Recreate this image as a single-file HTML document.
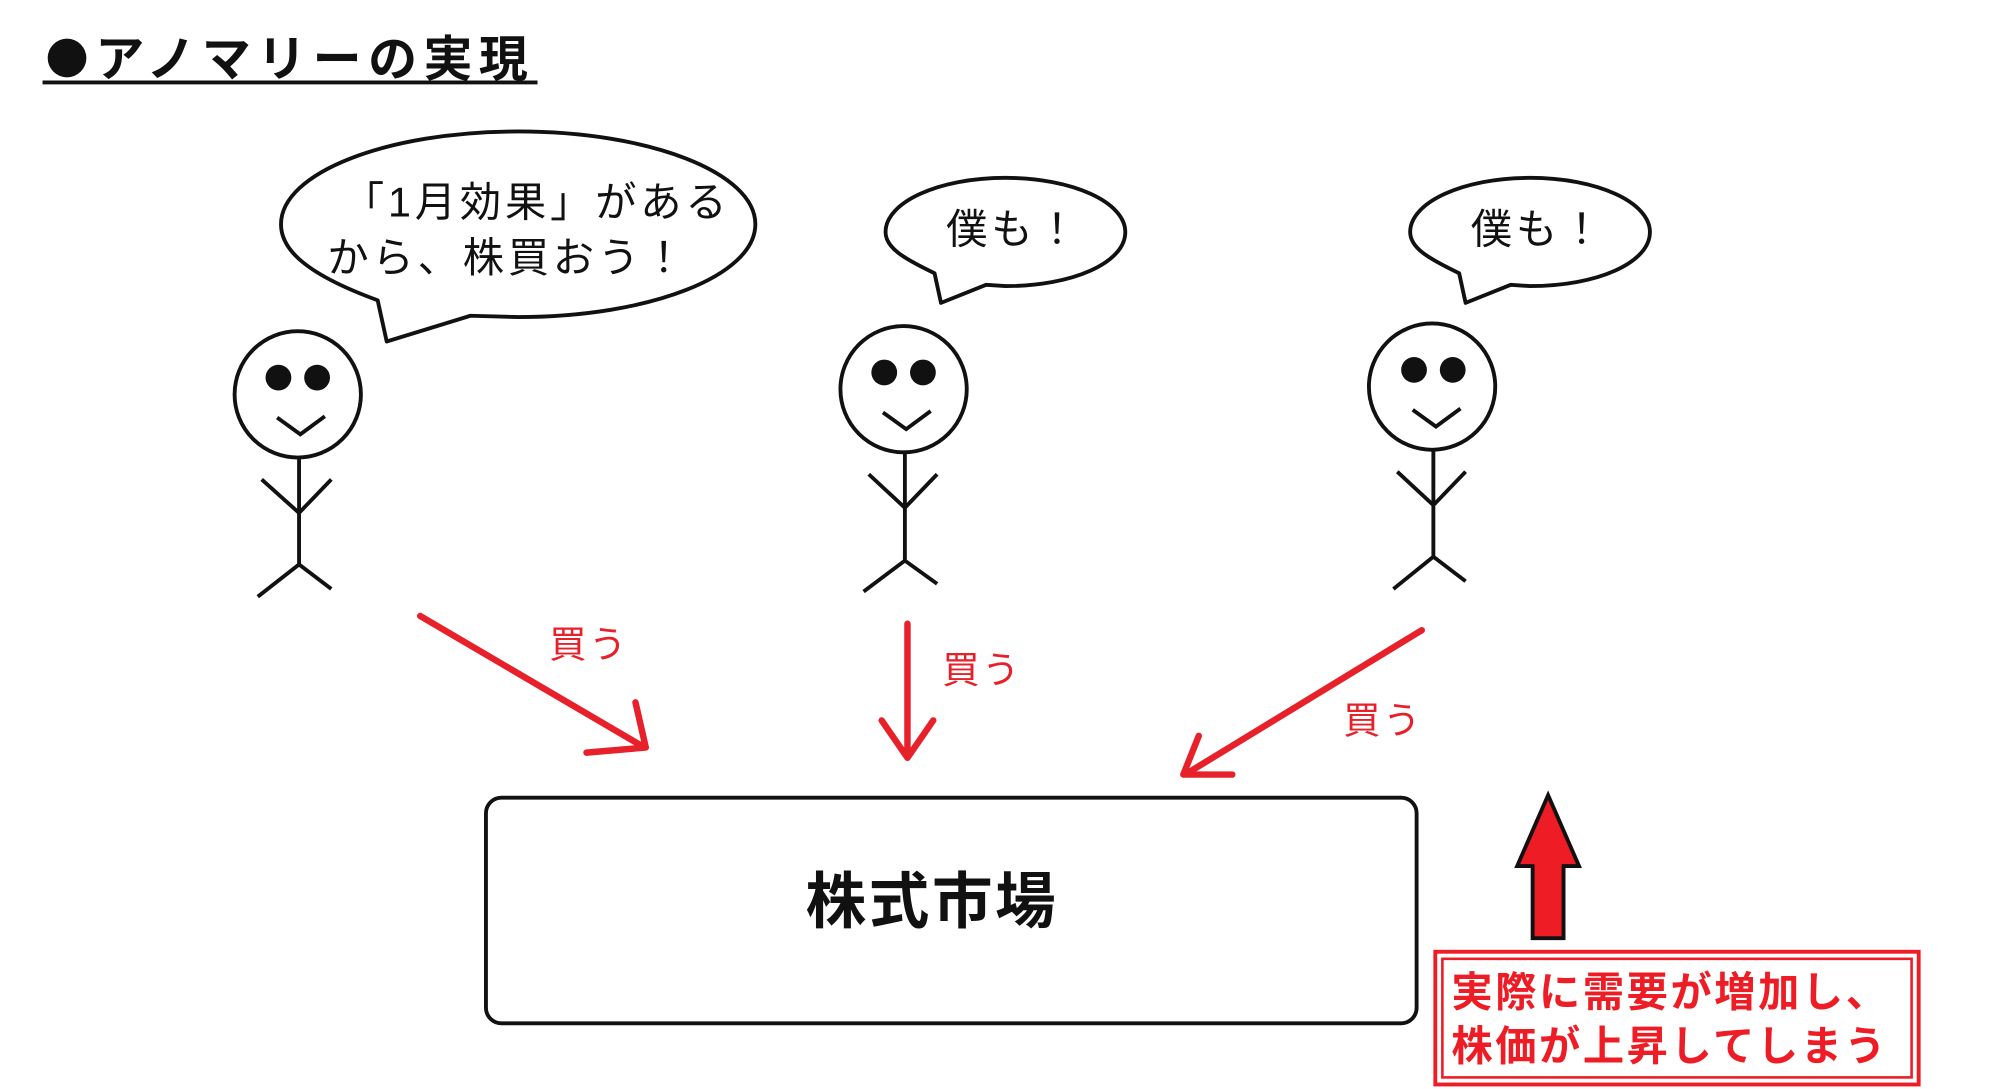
<!DOCTYPE html>
<html><head><meta charset="utf-8"><style>
html,body{margin:0;padding:0;background:#fff;}
svg{display:block;}
text{font-family:"Liberation Sans","Noto Sans CJK JP",sans-serif;}
</style></head><body>
<svg width="2016" height="1089" viewBox="0 0 1564 845" preserveAspectRatio="none" xmlns="http://www.w3.org/2000/svg">
<!-- title -->
<circle cx="52" cy="45" r="15" fill="#111"/>
<text x="74" y="59" font-size="38" font-weight="bold" fill="#111" letter-spacing="5">アノマリーの実現</text>
<line x1="33" y1="64" x2="417" y2="64" stroke="#111" stroke-width="3"/>

<!-- bubble 1 -->
<path d="M293,233 C230,210 218,190 218,174 C218,134 300,102 402,102 C504,102 586,134 586,174 C586,214 504,246 402,246 L365,245 L300,265 Z" fill="#fff" stroke="#111" stroke-width="3" stroke-linejoin="round"/>
<text x="266" y="168" font-size="32" fill="#111" letter-spacing="3">「1月効果」がある</text>
<text x="254" y="211" font-size="32" fill="#111" letter-spacing="3">から、株買おう！</text>

<!-- bubble 2 -->
<path d="M725,212 C700,200 687,192 687,180 C687,157 728,138 780,138 C832,138 873,157 873,180 C873,204 832,222 780,222 L765,221 L730,235 Z" fill="#fff" stroke="#111" stroke-width="3" stroke-linejoin="round"/>
<text x="734" y="189" font-size="32" fill="#111" letter-spacing="3">僕も！</text>

<!-- bubble 3 -->
<path d="M1132,212 C1107,200 1094,192 1094,180 C1094,157 1135,138 1187,138 C1239,138 1280,157 1280,180 C1280,204 1239,222 1187,222 L1172,221 L1137,235 Z" fill="#fff" stroke="#111" stroke-width="3" stroke-linejoin="round"/>
<text x="1141" y="189" font-size="32" fill="#111" letter-spacing="3">僕も！</text>

<!-- stick figures -->
<g fill="none" stroke="#111" stroke-width="3">
 <circle cx="231" cy="306" r="49"/>
 <path d="M215,324 L233,337 L252,323"/>
 <path d="M232,355 V438 M203,372 L232,398 L257,372 M200,463 L232,438 L257,457"/>
 <circle cx="701" cy="302" r="49"/>
 <path d="M685,320 L703,333 L722,319"/>
 <path d="M702,351 V435 M674,368 L702,394 L727,368 M670,459 L702,435 L727,453"/>
 <circle cx="1111" cy="300" r="49"/>
 <path d="M1096,318 L1114,331 L1133,317"/>
 <path d="M1112,349 V432 M1084,366 L1112,392 L1137,366 M1081,457 L1112,432 L1137,451"/>
</g>
<g fill="#111">
 <circle cx="216" cy="293" r="10"/><circle cx="246" cy="293" r="10"/>
 <circle cx="686" cy="289" r="10"/><circle cx="716" cy="289" r="10"/>
 <circle cx="1097" cy="287" r="10"/><circle cx="1127" cy="287" r="10"/>
</g>

<!-- red arrows -->
<g fill="none" stroke="#e8202a" stroke-width="5" stroke-linecap="round" stroke-linejoin="round">
 <path d="M326,478 L500,580 M493,545 L501,580 L455,584"/>
 <path d="M704,484 L704,586 M684,559 L704,588 L724,559"/>
 <path d="M1103,489 L921,600 M930,571 L918,601 L956,601"/>
</g>
<text x="426" y="510" font-size="29" fill="#e8202a" letter-spacing="2">買う</text>
<text x="731" y="530" font-size="29" fill="#e8202a" letter-spacing="2">買う</text>
<text x="1042" y="569" font-size="29" fill="#e8202a" letter-spacing="2">買う</text>

<!-- market box -->
<rect x="377" y="619" width="722" height="175" rx="12" fill="#fff" stroke="#111" stroke-width="3"/>
<text x="723" y="716" font-size="47" font-weight="bold" fill="#111" text-anchor="middle" letter-spacing="2">株式市場</text>

<!-- up arrow -->
<path d="M1201,617 L1225,672 L1213,672 L1213,728 L1189,728 L1189,672 L1177,672 Z" fill="#ee1c24" stroke="#111" stroke-width="3" stroke-linejoin="miter"/>

<!-- red note box -->
<rect x="1113.5" y="738.5" width="375" height="103" fill="#fff" stroke="#ee1c24" stroke-width="3"/>
<rect x="1119" y="744" width="364" height="92" fill="none" stroke="#ee1c24" stroke-width="2"/>
<text x="1126" y="781" font-size="32" font-weight="bold" fill="#ee1c24" letter-spacing="2">実際に需要が増加し、</text>
<text x="1126" y="823" font-size="32" font-weight="bold" fill="#ee1c24" letter-spacing="2">株価が上昇してしまう</text>
</svg>
</body></html>
